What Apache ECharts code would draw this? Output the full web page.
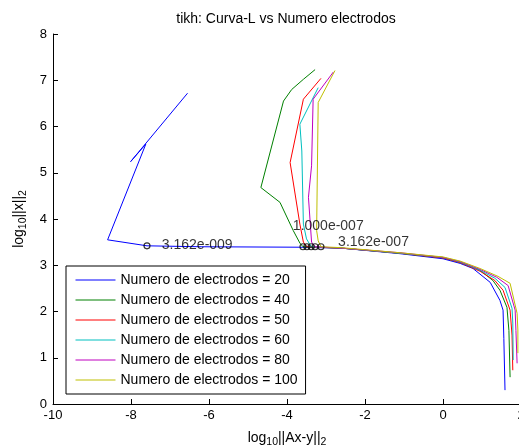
<!DOCTYPE html>
<html>
<head>
<meta charset="utf-8">
<script src="https://cdn.jsdelivr.net/npm/echarts@6/dist/echarts.min.js"></script>
<style>
  html, body { margin: 0; padding: 0; background: #fff; }
  #chart { width: 519px; height: 448px; }
</style>
</head>
<body>
<div id="chart"></div>
<script>
// L-curves (log10 residual norm vs log10 solution norm), one per electrode count
const seriesNames = [
  'Numero de electrodos = 20',
  'Numero de electrodos = 40',
  'Numero de electrodos = 50',
  'Numero de electrodos = 60',
  'Numero de electrodos = 80',
  'Numero de electrodos = 100'
];

const x20 = [-6.55, -8.01, -7.62, -8.60, -7.59, -6.20, -3.67, -2.60, -1.10, 0.00, 0.44, 0.77, 1.21, 1.46, 1.54, 1.56, 1.59];
const y20 = [6.72, 5.24, 5.62, 3.55, 3.42, 3.40, 3.39, 3.37, 3.25, 3.14, 3.04, 2.93, 2.63, 2.24, 2.03, 1.42, 0.30];

const x40 = [-3.28, -3.58, -3.88, -4.09, -4.67, -4.18, -3.84, -3.67, -3.59, -2.60, -1.10, 0.00, 0.44, 0.95, 1.28, 1.46, 1.64, 1.69, 1.72];
const y40 = [7.23, 7.02, 6.80, 6.55, 4.68, 4.36, 3.75, 3.48, 3.40, 3.37, 3.26, 3.16, 3.06, 2.89, 2.67, 2.46, 2.09, 1.59, 0.58];

const x50 = [-3.13, -3.58, -3.92, -3.67, -3.58, -3.49, -2.60, -1.10, 0.00, 0.44, 0.95, 1.33, 1.54, 1.72, 1.77, 1.79];
const y50 = [7.04, 6.59, 5.22, 3.89, 3.50, 3.40, 3.37, 3.26, 3.16, 3.06, 2.87, 2.67, 2.46, 2.03, 1.49, 0.73];

const x60 = [-3.20, -3.67, -3.62, -3.58, -3.50, -3.38, -2.60, -1.10, 0.00, 0.44, 0.95, 1.33, 1.59, 1.77, 1.79, 1.80];
const y60 = [6.84, 6.05, 5.47, 3.89, 3.57, 3.40, 3.37, 3.26, 3.17, 3.07, 2.89, 2.72, 2.52, 2.07, 1.75, 0.95];

const x80 = [-2.81, -3.33, -3.37, -3.45, -3.37, -3.28, -2.60, -1.10, 0.00, 0.44, 0.95, 1.38, 1.67, 1.85, 1.87, 1.90];
const y80 = [7.18, 6.59, 5.15, 4.47, 3.50, 3.40, 3.37, 3.27, 3.17, 3.08, 2.91, 2.74, 2.56, 2.03, 1.59, 0.88];

const x100 = [-2.77, -3.20, -3.24, -3.20, -3.13, -2.60, -1.10, 0.00, 0.44, 0.95, 1.41, 1.72, 1.90, 1.92, 1.92];
const y100 = [7.21, 6.52, 3.75, 3.53, 3.40, 3.38, 3.27, 3.18, 3.09, 2.93, 2.76, 2.61, 1.96, 1.60, 1.10];

// 'o' markers at the chosen regularization parameters
const markX = [-7.59, -3.59, -3.49, -3.38, -3.28, -3.13];
const markY = [3.42, 3.40, 3.40, 3.40, 3.40, 3.40];

// regularization parameter annotations (text anchored at its left edge)
const lambdaText = ['3.162e-009', '1.000e-007', '3.162e-007'];
const lambdaX = [-7.21, -3.85, -2.69];
const lambdaY = [3.43, 3.84, 3.49];

const xTicks = { min: -10, max: 2, step: 2 };
const yTicks = { min: 0, max: 8, step: 1 };

const colors = ['#0000ff', '#008000', '#ff0000', '#00bfbf', '#bf00bf', '#bfbf00'];
const xs = [x20, x40, x50, x60, x80, x100];
const ys = [y20, y40, y50, y60, y80, y100];

const FONT = 'Liberation Sans, Arial, Helvetica, sans-serif';
const zip = (a, b) => a.map((v, i) => [v, b[i]]);

const curveSeries = seriesNames.map((name, i) => ({
  name: name,
  type: 'line',
  data: zip(xs[i], ys[i]),
  symbol: 'none',
  showSymbol: false,
  lineStyle: { color: colors[i], width: 1 },
  itemStyle: { color: colors[i] },
  z: 2 + i
}));

const chart = echarts.init(document.getElementById('chart'), null, { renderer: 'canvas' });

chart.setOption({
  animation: false,
  backgroundColor: '#ffffff',
  textStyle: { fontFamily: FONT },
  grid: { left: 53, right: -2, top: 34, bottom: 44, containLabel: false, outerBoundsMode: 'none' },
  graphic: [{
    type: 'text',
    x: 286, y: 19,
    style: {
      text: 'tikh: Curva-L vs Numero electrodos',
      font: '14px ' + FONT,
      fill: '#000',
      textAlign: 'center',
      textVerticalAlign: 'middle'
    }
  }],
  legend: {
    data: seriesNames,
    orient: 'vertical',
    left: 66, top: 266,
    padding: [7, 8, 7, 9],
    itemWidth: 40, itemHeight: 14, itemGap: 6,
    itemStyle: { opacity: 0 },
    lineStyle: { width: 1 },
    borderColor: '#000', borderWidth: 1, backgroundColor: '#fff',
    textStyle: { fontFamily: FONT, fontSize: 14, color: '#000' },
    selectedMode: false
  },
  xAxis: {
    type: 'value',
    min: xTicks.min, max: xTicks.max, interval: xTicks.step,
    splitLine: { show: false },
    axisLine: { onZero: false, lineStyle: { color: '#000', width: 1 } },
    axisTick: { inside: true, length: 5, lineStyle: { color: '#000' } },
    axisLabel: { color: '#000', fontSize: 13, fontFamily: FONT, margin: 5 },
    name: 'log{sub|10}||Ax-y||{sub|2}',
    nameLocation: 'middle',
    nameGap: 24,
    nameTextStyle: {
      color: '#000', fontSize: 14, fontFamily: FONT,
      rich: { sub: { fontSize: 10.5, fontFamily: FONT, color: '#000', padding: [9, 0, 0, 0], verticalAlign: 'bottom' } }
    }
  },
  yAxis: {
    type: 'value',
    min: yTicks.min, max: yTicks.max, interval: yTicks.step,
    splitLine: { show: false },
    axisLine: { onZero: false, lineStyle: { color: '#000', width: 1 } },
    axisTick: { inside: true, length: 5, lineStyle: { color: '#000' } },
    axisLabel: { color: '#000', fontSize: 13, fontFamily: FONT, margin: 6 },
    name: 'log{sub|10}||x||{sub|2}',
    nameLocation: 'middle',
    nameRotate: 90,
    nameGap: 21,
    nameTextStyle: {
      color: '#000', fontSize: 14, fontFamily: FONT,
      rich: { sub: { fontSize: 10.5, fontFamily: FONT, color: '#000', padding: [9, 0, 0, 0], verticalAlign: 'bottom' } }
    }
  },
  series: curveSeries.concat([
    {
      name: 'marcas',
      type: 'scatter',
      data: zip(markX, markY),
      symbol: 'circle',
      symbolSize: 6,
      itemStyle: { color: 'rgba(0,0,0,0)', borderColor: '#000', borderWidth: 1.2 },
      z: 10
    },
    {
      name: 'parametros',
      type: 'scatter',
      data: lambdaText.map((t, i) => ({ value: [lambdaX[i], lambdaY[i]], name: t })),
      symbol: 'circle',
      symbolSize: 0,
      label: {
        show: true,
        position: 'right',
        distance: 0,
        formatter: p => p.name,
        color: '#000',
        fontSize: 14,
        fontFamily: FONT
      },
      z: 11
    }
  ])
});
</script>
</body>
</html>
